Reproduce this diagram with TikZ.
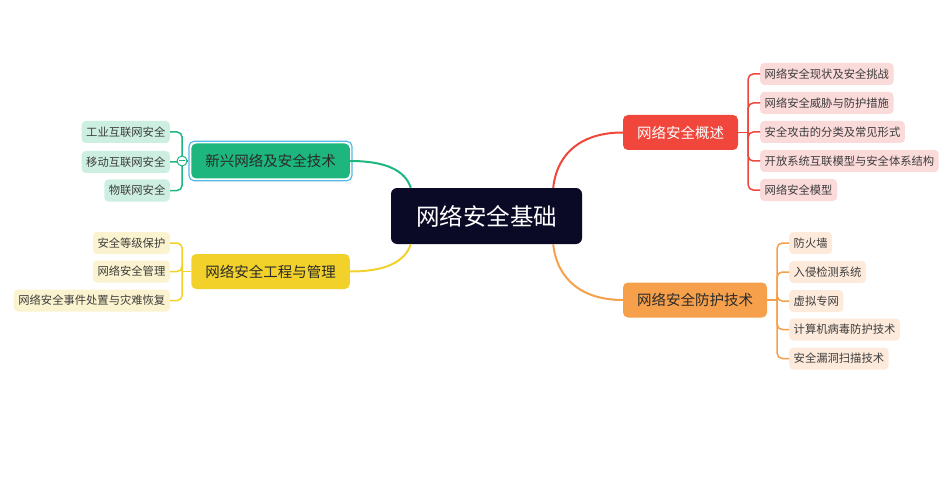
\documentclass[tikz,border=0pt]{standalone}
\usepackage{fontspec}
\newfontfamily\cjk{Noto Sans CJK SC}
\usetikzlibrary{calc,fit}

\definecolor{rootfill}{HTML}{0B0A26}
\definecolor{redfill}{HTML}{F0463B}
\definecolor{redlight}{HTML}{FBDADA}
\definecolor{orangefill}{HTML}{F6A04B}
\definecolor{orangelight}{HTML}{FDEADB}
\definecolor{greenfill}{HTML}{1DB67E}
\definecolor{greenlight}{HTML}{CDEFE1}
\definecolor{yellowfill}{HTML}{F2D12B}
\definecolor{yellowlight}{HTML}{FBF3CF}
\definecolor{selblue}{HTML}{55B9E6}
\definecolor{leaftext}{HTML}{3D3D3D}
\definecolor{darktext}{HTML}{2A2A2A}

\begin{document}
\begin{tikzpicture}[x=1pt, y=-1pt,
  rootbox/.style={fill=rootfill, text=white, rounded corners=6pt,
    inner xsep=25pt, inner ysep=0pt, minimum height=56pt,
    font=\cjk\fontsize{23.5}{26}\selectfont},
  branch/.style={rounded corners=5pt, inner xsep=14pt, inner ysep=0pt,
    minimum height=35pt, text=darktext,
    font=\cjk\fontsize{14.5}{17}\selectfont},
  leaf/.style={rounded corners=4pt, inner xsep=4.5pt, inner ysep=0pt,
    minimum height=22pt, text=leaftext,
    font=\cjk\fontsize{11.3}{13}\selectfont},
  link/.style={line width=2pt},
  brace/.style={line width=1.5pt, rounded corners=5pt},
  selbox/.style={draw=selblue, line width=1.2pt, rounded corners=5pt,
    inner sep=2pt},
  fold/.style={circle, draw=greenfill, fill=white, line width=1pt,
    minimum size=10pt, inner sep=0pt,
    path picture={\draw[greenfill, line width=1pt]
      ([xshift=-3pt]path picture bounding box.center) --
      ([xshift=3pt]path picture bounding box.center);}}]
  \useasboundingbox (0,0) rectangle (940,500);

  % Root
  \node [rootbox] (root) at (486.5,216) {网络安全基础};

  % Overview (red)
  \node [branch, fill=redfill, text=white] (over) at (680.5,132.5) {网络安全概述};
  \node [leaf, fill=redlight, anchor=west] (overa) at (760,74) {网络安全现状及安全挑战};
  \node [leaf, fill=redlight, anchor=west] (overb) at (760,103) {网络安全威胁与防护措施};
  \node [leaf, fill=redlight, anchor=west] (overc) at (760,132) {安全攻击的分类及常见形式};
  \node [leaf, fill=redlight, anchor=west] (overd) at (760,161) {开放系统互联模型与安全体系结构};
  \node [leaf, fill=redlight, anchor=west] (overe) at (760,190) {网络安全模型};

  % Protection (orange)
  \node [branch, fill=orangefill] (tech) at (695,300) {网络安全防护技术};
  \node [leaf, fill=orangelight, anchor=west] (techa) at (789,243) {防火墙};
  \node [leaf, fill=orangelight, anchor=west] (techb) at (789,272) {入侵检测系统};
  \node [leaf, fill=orangelight, anchor=west] (techc) at (789,301) {虚拟专网};
  \node [leaf, fill=orangelight, anchor=west] (techd) at (789,329.5) {计算机病毒防护技术};
  \node [leaf, fill=orangelight, anchor=west] (teche) at (789,358.5) {安全漏洞扫描技术};

  % Emerging (green)
  \node [branch, fill=greenfill] (emerg) at (270.5,161) {新兴网络及安全技术};
  \node [selbox, fit=(emerg)] (emergsel) {};
  \node [leaf, fill=greenlight, anchor=east] (emerga) at (170,132) {工业互联网安全};
  \node [leaf, fill=greenlight, anchor=east] (emergb) at (170,162) {移动互联网安全};
  \node [leaf, fill=greenlight, anchor=east] (emergc) at (170,190.5) {物联网安全};

  % Management (yellow)
  \node [branch, fill=yellowfill] (mgmt) at (270.5,271.5) {网络安全工程与管理};
  \node [leaf, fill=yellowlight, anchor=east] (mgmta) at (170,243) {安全等级保护};
  \node [leaf, fill=yellowlight, anchor=east] (mgmtb) at (170,271.5) {网络安全管理};
  \node [leaf, fill=yellowlight, anchor=east] (mgmtc) at (170,300.5) {网络安全事件处置与灾难恢复};

  % Edges from root
  \coordinate (rootNE) at ($(root.north east)+(-29,0)$);
  \coordinate (rootSE) at ($(root.south east)+(-29,0)$);
  \coordinate (rootNW) at ($(root.north west)+(20,0)$);
  \coordinate (rootSW) at ($(root.south west)+(20,0)$);
  \draw [link, redfill] (rootNE) .. controls ($(rootNE)+(4,-36)$)
        and ($(over.west)+(-40,0)$) .. (over.west);
  \draw [link, orangefill] (rootSE) .. controls ($(rootSE)+(4,36)$)
        and ($(tech.west)+(-40,0)$) .. (tech.west);
  \draw [link, greenfill] (rootNW) .. controls ($(rootNW)+(-6,-18)$)
        and ($(emerg.east)+(35,0)$) .. (emerg.east);
  \draw [link, yellowfill] (rootSW) .. controls ($(rootSW)+(-6,18)$)
        and ($(mgmt.east)+(35,0)$) .. (mgmt.east);

  % Brackets
  \coordinate (overJ) at ($(over.east)+(10,0)$);
  \draw [brace, redfill] (over.east) -- (overJ);
  \foreach \c in {a,b,c,d,e}
    \draw [brace, redfill] (overJ) |- (over\c.west);

  \coordinate (techJ) at ($(tech.east)+(10,0)$);
  \draw [brace, orangefill] (tech.east) -- (techJ);
  \foreach \c in {a,b,c,d,e}
    \draw [brace, orangefill] (techJ) |- (tech\c.west);

  \coordinate (emergJ) at ($(emerg.west)+(-9,0)$);
  \draw [brace, greenfill] (emergsel.west) -- (emergJ);
  \foreach \c in {a,b,c}
    \draw [brace, greenfill] (emergJ) |- (emerg\c.east);
  \node [fold] (emergfold) at (emergJ) {};

  \coordinate (mgmtJ) at ($(mgmt.west)+(-9,0)$);
  \draw [brace, yellowfill] (mgmt.west) -- (mgmtJ);
  \foreach \c in {a,b,c}
    \draw [brace, yellowfill] (mgmtJ) |- (mgmt\c.east);
\end{tikzpicture}
\end{document}
